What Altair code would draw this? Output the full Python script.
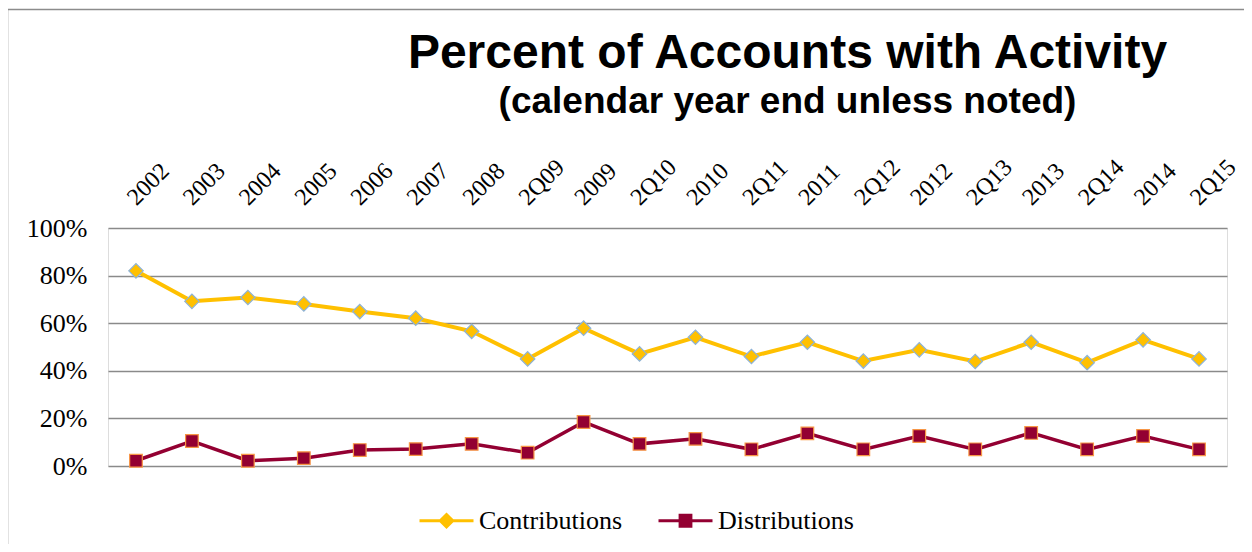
import altair as alt
import pandas as pd

periods = ["2002", "2003", "2004", "2005", "2006", "2007", "2008", "2Q09", "2009", "2Q10",
           "2010", "2Q11", "2011", "2Q12", "2012", "2Q13", "2013", "2Q14", "2014", "2Q15"]
contributions = [82.0, 69.2, 70.8, 68.1, 64.9, 62.1, 56.6, 45.0, 57.9, 47.1,
                 54.1, 46.0, 52.0, 44.1, 48.8, 43.9, 52.0, 43.4, 53.0, 45.0]
distributions = [2.2, 10.5, 2.2, 3.3, 6.7, 7.1, 9.3, 5.6, 18.5, 9.3,
                 11.4, 7.0, 13.7, 7.0, 12.6, 7.0, 13.9, 7.0, 12.6, 7.0]
series_names = ["Contributions", "Distributions"]
line_colors = ["#FFC000", "#930032"]
marker_strokes = ["#8DB3D9", "#F79646"]
marker_shapes = ["diamond", "square"]
marker_sizes = [210, 160]
line_widths = [4, 3.5]

rows = []
for p, c, d in zip(periods, contributions, distributions):
    rows.append({"period": p, "series": "Contributions", "value": c / 100})
    rows.append({"period": p, "series": "Distributions", "value": d / 100})
df = pd.DataFrame(rows)

W, H = 1119, 238

x_enc = alt.X("period:N", sort=periods,
              scale=alt.Scale(type="point", padding=0.5),
              axis=alt.Axis(orient="top", title=None, labelAngle=-45, labelAlign="left",
                            labelBaseline="alphabetic", labelFont="Liberation Serif",
                            labelFontSize=24, labelColor="black", labelPadding=22,
                            ticks=False, tickSize=0, domain=False, grid=False))
y_enc = alt.Y("value:Q", scale=alt.Scale(domain=[0, 1]),
              axis=alt.Axis(title=None, format=".0%", values=[0, 0.2, 0.4, 0.6, 0.8, 1.0],
                            labelFont="Liberation Serif", labelFontSize=26, labelColor="black",
                            labelPadding=21, ticks=False, tickSize=0, domain=False,
                            grid=True, gridColor="#8a8a8a", gridWidth=1.5))

base = alt.Chart(df)

layers = []
frame = alt.Chart(pd.DataFrame({"a": [0]})).mark_rect(
    fill=None, stroke="#8c8c8c", strokeWidth=1.5, clip=False
).encode(x=alt.value(-100.5), x2=alt.value(1400), y=alt.value(-218.5), y2=alt.value(600))
layers.append(frame)

for i, name in enumerate(series_names):
    sub = base.transform_filter(alt.datum.series == name)
    layers.append(sub.mark_line(strokeWidth=line_widths[i], color=line_colors[i]).encode(x=x_enc, y=y_enc))
for i, name in enumerate(series_names):
    sub = base.transform_filter(alt.datum.series == name)
    layers.append(sub.mark_point(
        shape=marker_shapes[i], size=marker_sizes[i], filled=True, fill=line_colors[i],
        stroke=marker_strokes[i], strokeWidth=1.2, opacity=1
    ).encode(x=x_enc, y=y_enc))

legend_paths = [
    "M-1,0L1,0M0,-0.23L0.23,0L0,0.23L-0.23,0Z",
    "M-1,0L1,0M-0.2,-0.2L0.2,-0.2L0.2,0.2L-0.2,0.2Z",
]
legend_layer = base.mark_point(filled=True, size=2916, opacity=0).encode(
    x=x_enc, y=y_enc,
    shape=alt.Shape("series:N", scale=alt.Scale(domain=series_names, range=legend_paths),
                    legend=alt.Legend(title=None, orient="none", legendX=310, legendY=264,
                                      direction="horizontal", labelFont="Liberation Serif",
                                      labelFontSize=26, labelColor="black", symbolStrokeWidth=3,
                                      symbolSize=2916, labelOffset=4, columnPadding=29,
                                      symbolOpacity=1)),
    fill=alt.Fill("series:N", scale=alt.Scale(domain=series_names, range=line_colors)),
    stroke=alt.Stroke("series:N", scale=alt.Scale(domain=series_names, range=line_colors)),
)
layers.append(legend_layer)

chart = alt.layer(*layers).properties(
    width=W, height=H,
    title=alt.TitleParams(
        text="Percent of Accounts with Activity",
        subtitle="(calendar year end unless noted)",
        font="Liberation Sans", fontSize=48, fontWeight="bold", color="black",
        subtitleFont="Liberation Sans", subtitleFontSize=37, subtitleFontWeight="bold",
        subtitleColor="black", subtitlePadding=6,
        anchor="middle", dx=120, dy=136, offset=25,
    ),
    padding={"left": 100, "top": 220, "right": 17, "bottom": 78},
    autosize=alt.AutoSizeParams(type="none"),
).configure_view(stroke=None).configure(background="white")

chart.save("out.html", embed_options={"renderer": "svg", "actions": False})
